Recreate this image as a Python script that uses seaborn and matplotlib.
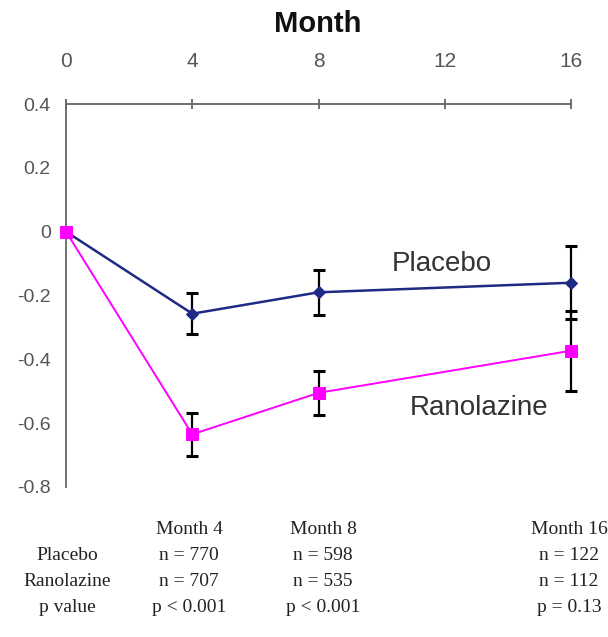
import numpy as np
import pandas as pd
import matplotlib
matplotlib.use("Agg")
import matplotlib.pyplot as plt
from matplotlib import font_manager as fm
import seaborn as sns

sns.set_theme(style="white")
plt.rcParams['font.family'] = ['Liberation Sans', 'DejaVu Sans']

months = [0, 4, 8, 16]
placebo = [0.0, -0.257, -0.19, -0.16]
placebo_err = [0.0, 0.065, 0.07, 0.115]
ranolazine = [0.0, -0.635, -0.505, -0.373]
ranolazine_err = [0.0, 0.067, 0.07, 0.125]

tbl_cols = ["Month 4", "Month 8", "Month 16"]
tbl_rows = ["Placebo", "Ranolazine", "p value"]
n_placebo = ["n = 770", "n = 598", "n = 122"]
n_ranolazine = ["n = 707", "n = 535", "n = 112"]
p_values = ["p < 0.001", "p < 0.001", "p = 0.13"]

df = pd.DataFrame({
    "month": months * 2,
    "value": placebo + ranolazine,
    "group": ["Placebo"] * 4 + ["Ranolazine"] * 4,
})

# narrow font for the tick numbers if there is one
try:
    fm.findfont("Liberation Sans Narrow", fallback_to_default=False)
    tick_font, xs, ys = "Liberation Sans Narrow", 20, 17
except Exception:
    tick_font, xs, ys = "Liberation Sans", 15, 14

fig = plt.figure(figsize=(6.08, 6.37), dpi=100)
ax = fig.add_axes([0.1086, 0.2355, 0.8306, 0.6012])

navy = "#1f2a85"
mag = "#ff00ff"

for vals, errs in [(placebo, placebo_err), (ranolazine, ranolazine_err)]:
    eb = ax.errorbar(months[1:], vals[1:], yerr=errs[1:], fmt="none",
                     ecolor="black", elinewidth=1.6, capsize=4.5, capthick=2.2,
                     zorder=2)
    for art in eb.lines[1] + eb.lines[2]:
        art.set_clip_on(False)

sns.lineplot(data=df[df.group == "Placebo"], x="month", y="value", color=navy,
             marker="D", markersize=6, markeredgecolor=navy, linewidth=1.8,
             ax=ax, zorder=3, clip_on=False)
sns.lineplot(data=df[df.group == "Ranolazine"], x="month", y="value", color=mag,
             marker="s", markersize=9, markeredgecolor=mag, linewidth=1.4,
             ax=ax, zorder=4, clip_on=False)

ax.set_xlim(0, 16)
ax.set_ylim(-0.8, 0.4)
ax.set_xticks([0, 4, 8, 12, 16])
ax.set_xticklabels(["0", "4", "8", "12", "16"], family=tick_font)
ax.set_yticks([0.4, 0.2, 0, -0.2, -0.4, -0.6, -0.8])
ax.set_yticklabels(["0.4", "0.2", "0", "-0.2", "-0.4", "-0.6", "-0.8"],
                   family=tick_font)
ax.xaxis.tick_top()
ax.set_xlabel("")
ax.set_ylabel("")
ax.tick_params(axis="x", direction="inout", length=7, width=1.2, color="#555555",
               labelsize=xs, labelcolor="#555555", pad=20)
ax.tick_params(axis="y", direction="out", length=7, width=1.2, color="#555555",
               labelsize=ys, labelcolor="#555555", pad=4)
for s in ["right", "bottom"]:
    ax.spines[s].set_visible(False)
for s in ["top", "left"]:
    ax.spines[s].set_color("#666666")
    ax.spines[s].set_linewidth(1.3)
ax.patch.set_alpha(0)

W, H = 608, 637
fig.text(318 / W, 1 - 24 / H, "Month", ha="center", va="center", fontsize=21,
         fontweight="bold", color="#111111")

ax.text(11.9, -0.10, "Placebo", fontsize=20, color="#333333", ha="center", va="center")
ax.text(13.1, -0.553, "Ranolazine", fontsize=20, color="#333333", ha="center", va="center")

# table under the chart
serif = ["Liberation Serif", "DejaVu Serif"]
col_x = [189, 323, 569]
head_y = 530
row_y = [556, 582, 608]
for cx, lab in zip(col_x, tbl_cols):
    fig.text(cx / W, 1 - head_y / H, lab, ha="center", va="center", fontsize=14,
             family=serif, color="#222222")
for ry, lab in zip(row_y, tbl_rows):
    fig.text(67 / W, 1 - ry / H, lab, ha="center", va="center", fontsize=14,
             family=serif, color="#222222")
for vals, ry in zip([n_placebo, n_ranolazine, p_values], row_y):
    for cx, v in zip(col_x, vals):
        fig.text(cx / W, 1 - ry / H, v, ha="center", va="center", fontsize=14,
                 family=serif, color="#222222")

fig.savefig("out.png", dpi=100)
